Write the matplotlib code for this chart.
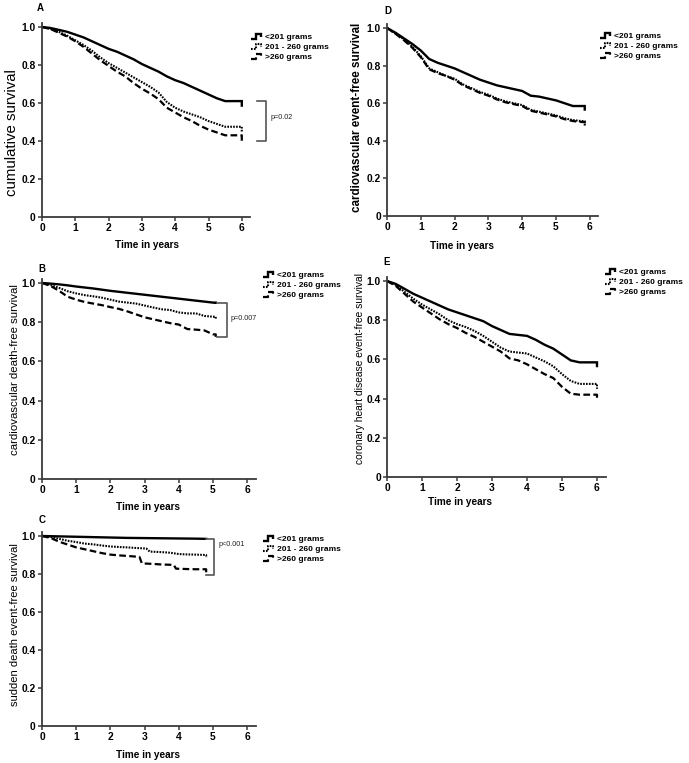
import numpy as np
import matplotlib
matplotlib.use("Agg")
import matplotlib.pyplot as plt
from matplotlib.lines import Line2D
from matplotlib.legend_handler import HandlerLine2D

plt.rcParams['font.family'] = ['Liberation Sans', 'DejaVu Sans']

# ---------------- data ----------------
group_labels = ["<201 grams", "201 - 260 grams", ">260 grams"]
tick_x = [0, 1, 2, 3, 4, 5, 6]
tick_y = [0, 0.2, 0.4, 0.6, 0.8, 1.0]
tick_y_labels = ["0", "0.2", "0.4", "0.6", "0.8", "1.0"]

grid6 = [0, .25, .5, .75, 1, 1.25, 1.5, 1.75, 2, 2.25, 2.5, 2.75, 3, 3.25, 3.5,
         3.75, 4, 4.25, 4.5, 4.75, 5, 5.25, 5.5, 5.75, 6.0, 6.0]
grid5 = [0, .25, .5, .75, 1, 1.25, 1.5, 1.75, 2, 2.25, 2.5, 2.75, 3, 3.25, 3.5,
         3.75, 4, 4.25, 4.5, 4.75, 5.0, 5.08, 5.08]
gridD = [0, .25, .5, .75, 1, 1.25, 1.5, 1.75, 2, 2.25, 2.5, 2.75, 3, 3.25, 3.5,
         3.75, 4, 4.25, 4.5, 4.75, 5, 5.25, 5.5, 5.75, 5.85, 5.85]

# Panel A: cumulative survival
A_t = grid6
A_low = [1, .995, .985, .975, .96, .945, .925, .905, .885, .87, .85, .83, .805, .785,
         .765, .74, .72, .705, .685, .665, .645, .625, .61, .61, .61, .58]
A_mid = [1, .99, .975, .955, .93, .905, .875, .84, .81, .785, .76, .735, .71, .685,
         .655, .605, .575, .555, .54, .525, .505, .49, .475, .475, .475, .45]
A_high = [1, .99, .97, .95, .925, .895, .86, .825, .795, .765, .74, .705, .675, .65,
          .62, .575, .55, .525, .505, .48, .46, .445, .43, .43, .43, .40]

# Panel B: cardiovascular death-free survival
B_t = grid5
B_low = [1, .997, .993, .988, .982, .977, .972, .966, .96, .955, .95, .945, .94, .935,
         .93, .925, .92, .915, .91, .905, .90, .90, .893]
B_mid = [1, .99, .975, .958, .947, .938, .932, .925, .915, .905, .90, .895, .885, .875,
         .866, .862, .85, .845, .845, .832, .828, .828, .813]
B_high = [1, .985, .96, .93, .915, .903, .895, .887, .877, .868, .855, .84, .825, .815,
          .805, .795, .788, .765, .762, .758, .738, .738, .725]

# Panel C: sudden death event-free survival
C_low_t = [0, .5, 1, 1.5, 2, 2.5, 3, 3.5, 4, 4.5, 4.8, 4.8]
C_low = [1, .998, .996, .994, .992, .990, .989, .988, .987, .986, .985, .982]
C_mid_t = [0, .25, .5, .75, 1, 1.25, 1.5, 1.75, 2, 2.25, 2.5, 2.75, 3.05, 3.15, 3.5,
           3.75, 4, 4.25, 4.5, 4.8, 4.8]
C_mid = [1, .995, .985, .975, .968, .96, .956, .95, .945, .942, .94, .937, .934, .918,
         .915, .912, .905, .903, .902, .90, .885]
C_high_t = [0, .25, .5, .75, 1, 1.25, 1.5, 1.75, 2, 2.25, 2.5, 2.85, 2.92, 3.25, 3.5,
            3.85, 3.92, 4.25, 4.5, 4.8, 4.8]
C_high = [1, .99, .97, .955, .94, .93, .92, .91, .902, .898, .895, .89, .856, .853,
          .85, .848, .828, .826, .825, .825, .795]

# Panel D: cardiovascular event-free survival
D_t = gridD
D_low = [1, .975, .945, .915, .88, .835, .815, .80, .785, .765, .745, .725, .71, .695,
         .685, .675, .665, .64, .635, .625, .615, .60, .585, .585, .585, .56]
D_mid = [1, .97, .94, .90, .85, .785, .765, .745, .73, .70, .68, .66, .645, .625,
         .61, .60, .59, .565, .555, .545, .535, .52, .51, .505, .505, .48]
D_high = [1, .97, .935, .895, .845, .78, .76, .745, .725, .695, .675, .655, .64, .62,
          .605, .595, .585, .56, .55, .54, .53, .515, .505, .50, .50, .475]

# Panel E: coronary heart disease event-free survival
E_t = grid6
E_low = [1, .985, .96, .935, .915, .895, .875, .855, .84, .825, .81, .795, .77, .75,
         .73, .725, .72, .70, .675, .655, .625, .595, .585, .585, .585, .56]
E_mid = [1, .98, .945, .91, .88, .855, .83, .80, .78, .765, .745, .72, .69, .66,
         .64, .635, .63, .61, .59, .565, .525, .49, .475, .475, .475, .45]
E_high = [1, .975, .935, .895, .865, .835, .805, .78, .76, .735, .715, .69, .665, .64,
          .605, .595, .575, .55, .525, .505, .46, .425, .42, .42, .42, .40]

p_A, p_B, p_C = "p=0.02", "p=0.007", "p<0.001"

# ---------------- layout / style ----------------
W, H = 689, 763
fig = plt.figure(figsize=(W / 100, H / 100), dpi=100)

XMAX, YMAX = 6.25, 1.02
SPINE = '#3a3a3a'

def make_axes(x0_px, xunit_px, y0_px, yunit_px):
    left = x0_px / W
    width = XMAX * xunit_px / W
    bottom = (H - y0_px) / H
    height = YMAX * yunit_px / H
    return fig.add_axes([left, bottom, width, height])

styles = [
    dict(color='black', lw=1.7, linestyle='-'),
    dict(color='black', lw=1.5, linestyle=(0, (0.8, 0.6))),
    dict(color='black', lw=1.6, linestyle=(0, (3.0, 1.5))),
]

class StepHandler(HandlerLine2D):
    def create_artists(self, legend, orig_handle, xdescent, ydescent,
                       width, height, fontsize, trans):
        xs = np.array([0.0, 0.42, 0.42, 0.88, 0.88]) * width - xdescent
        ys = np.array([0.1, 0.1, 0.9, 0.9, 0.35]) * height - ydescent
        line = Line2D(xs, ys)
        self.update_prop(line, orig_handle, legend)
        line.set_transform(trans)
        return [line]

def panel(ax, ts, series, letter, ylabel, ylabel_xy, ylabel_size, ylabel_weight,
          letter_xy, xlabel_xy, legend_xy):
    handles = []
    for t, vals, st, lab in zip(ts, series, styles, group_labels):
        ln, = ax.plot(t, vals, label=lab, solid_capstyle='butt',
                      dash_capstyle='butt', solid_joinstyle='miter', **st)
        handles.append(ln)
    ax.set_xlim(0, XMAX)
    ax.set_ylim(0, YMAX)
    ax.set_xticks(tick_x)
    ax.set_yticks(tick_y)
    ax.set_yticklabels(tick_y_labels)
    for s in ['top', 'right']:
        ax.spines[s].set_visible(False)
    for s in ['left', 'bottom']:
        ax.spines[s].set_color(SPINE)
        ax.spines[s].set_linewidth(1.3)
    ax.tick_params(direction='out', length=3, width=1.1, color=SPINE,
                   labelsize=7.4, pad=1.5)
    for lbl in ax.get_xticklabels() + ax.get_yticklabels():
        lbl.set_fontweight('bold')
    fig.text(letter_xy[0] / W, 1 - letter_xy[1] / H, letter, fontsize=7,
             fontweight='bold', ha='center', va='center')
    fig.text(xlabel_xy[0] / W, 1 - xlabel_xy[1] / H, "Time in years", fontsize=7.2,
             fontweight='bold', ha='center', va='center')
    fig.text(ylabel_xy[0] / W, 1 - ylabel_xy[1] / H, ylabel, fontsize=ylabel_size,
             fontweight=ylabel_weight, rotation=90, ha='center', va='center')
    leg = ax.legend(handles=handles, loc='upper left',
                    bbox_to_anchor=(legend_xy[0] / W, 1 - legend_xy[1] / H),
                    bbox_transform=fig.transFigure, frameon=False,
                    prop=dict(size=6.0, weight='bold'), handlelength=1.4,
                    handleheight=0.8, handletextpad=0.3, labelspacing=0.25,
                    borderpad=0, borderaxespad=0,
                    handler_map={Line2D: StepHandler()})
    return leg

def bracket(ax, top, bottom, x_tick, x_bar, ptext, px, py):
    ax.plot([x_tick, x_bar, x_bar, x_tick], [top, top, bottom, bottom],
            color='#555555', lw=1.2, clip_on=False)
    ax.text(px, py, ptext, fontsize=5.2, ha='left', va='center', color='#222222')

# Panel A
axA = make_axes(42, 33.3, 217, 190)
panel(axA, [A_t] * 3, [A_low, A_mid, A_high], "A", "cumulative survival", (12, 133), 10.8,
      'normal', (40, 8), (147, 245), (251, 33))
bracket(axA, A_low[-2], A_high[-1], 6.45, 6.73, p_A, 6.85, (A_low[-2] + A_high[-1]) / 2 + 0.02)

# Panel D
axD = make_axes(387, 33.8, 216, 188)
panel(axD, [D_t] * 3, [D_low, D_mid, D_high], "D", "cardiovascular event-free survival",
      (357, 117), 8.4, 'bold', (388, 11), (462, 246), (600, 32))

# Panel B
axB = make_axes(42, 34.2, 479, 196)
panel(axB, [B_t] * 3, [B_low, B_mid, B_high], "B", "cardiovascular death-free survival",
      (15, 370), 8.2, 'normal', (42, 269), (148, 507), (263, 271))
bracket(axB, B_low[-2], B_high[-1], 5.12, 5.41, p_B, 5.5, (B_low[-2] + B_high[-1]) / 2 + 0.005)

# Panel E
axE = make_axes(387, 35.0, 477, 196)
panel(axE, [E_t] * 3, [E_low, E_mid, E_high], "E", "coronary heart disease event-free survival",
      (360, 369), 7.4, 'normal', (387, 262), (460, 502), (605, 268))

# Panel C
axC = make_axes(42, 34.2, 726, 190)
panel(axC, [C_low_t, C_mid_t, C_high_t], [C_low, C_mid, C_high], "C",
      "sudden death event-free survival", (15, 625), 8.0, 'normal', (42, 520), (148, 755),
      (263, 535))
bracket(axC, C_low[-2], C_high[-1], 4.8, 5.02, p_C, 5.15, 0.953)

fig.savefig("out.png", dpi=100)
